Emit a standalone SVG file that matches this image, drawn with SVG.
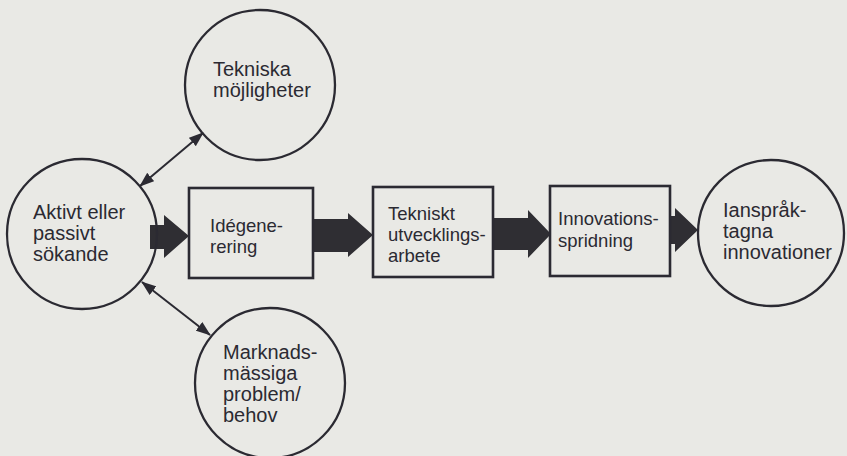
<svg xmlns="http://www.w3.org/2000/svg" width="847" height="456" viewBox="0 0 847 456">
  <defs>
    <style>
      .bg { fill: #e9e9e5; }
      .circle { fill: none; stroke: #2b2a32; stroke-width: 2.3; }
      .box { fill: none; stroke: #2b2a32; stroke-width: 2.6; }
      .label { font-family: "Liberation Sans", Arial, sans-serif; font-size: 20px; fill: #2b2a32; }
      .boxlabel { font-size: 18.5px; }
      .flow { fill: #2f2e33; }
      .link { stroke: #2b2a32; stroke-width: 2; fill: none; marker-start: url(#head); marker-end: url(#head); }
    </style>
    <marker id="head" viewBox="0 0 15 11" refX="14" refY="5.5" markerWidth="15" markerHeight="11" markerUnits="userSpaceOnUse" orient="auto-start-reverse">
      <path d="M0,0 L15,5.5 L0,11 z" fill="#2b2a32"/>
    </marker>
  </defs>

  <rect class="bg" x="0" y="0" width="847" height="456"/>

  <!-- connectors: broad flow arrows and two-way links -->
  <g id="connectors">
    <polygon class="flow" points="150,225 164,225 164,215 189,236 164,258 164,249 150,249"/>
    <polygon class="flow" points="313,219 348,219 348,213 373,235 348,257 348,252 313,252"/>
    <polygon class="flow" points="493,218 528,218 528,210 551,234 528,258 528,250 493,250"/>
    <polygon class="flow" points="669,216 675,216 675,208 698,230 675,252 675,244 669,244"/>
    <line class="link" x1="140" y1="186" x2="203" y2="133"/>
    <line class="link" x1="142" y1="282" x2="210" y2="335"/>
  </g>

  <g id="sokande">
    <circle class="circle" cx="82" cy="234" r="75"/>
    <text class="label" x="33" y="219">Aktivt eller</text>
    <text class="label" x="33" y="240">passivt</text>
    <text class="label" x="33" y="261">sökande</text>
  </g>

  <g id="tekniska">
    <circle class="circle" cx="260" cy="85" r="75"/>
    <text class="label" x="213" y="76">Tekniska</text>
    <text class="label" x="213" y="97">möjligheter</text>
  </g>

  <g id="marknad">
    <circle class="circle" cx="270" cy="383" r="75"/>
    <text class="label" x="223" y="359">Marknads-</text>
    <text class="label" x="223" y="380">mässiga</text>
    <text class="label" x="223" y="401">problem/</text>
    <text class="label" x="223" y="422">behov</text>
  </g>

  <g id="idegenerering">
    <rect class="box" x="189" y="188" width="124" height="90"/>
    <text class="label boxlabel" x="210" y="232">Idégene-</text>
    <text class="label boxlabel" x="210" y="253">rering</text>
  </g>

  <g id="utveckling">
    <rect class="box" x="373" y="187" width="120" height="90"/>
    <text class="label boxlabel" x="388" y="220">Tekniskt</text>
    <text class="label boxlabel" x="388" y="241">utvecklings-</text>
    <text class="label boxlabel" x="388" y="262">arbete</text>
  </g>

  <g id="spridning">
    <rect class="box" x="550" y="186" width="120" height="90"/>
    <text class="label boxlabel" x="558" y="225">Innovations-</text>
    <text class="label boxlabel" x="558" y="247">spridning</text>
  </g>

  <g id="innovationer">
    <circle class="circle" cx="771" cy="233" r="73"/>
    <text class="label" x="723" y="217">Ianspråk-</text>
    <text class="label" x="723" y="238">tagna</text>
    <text class="label" x="723" y="259">innovationer</text>
  </g>
</svg>
